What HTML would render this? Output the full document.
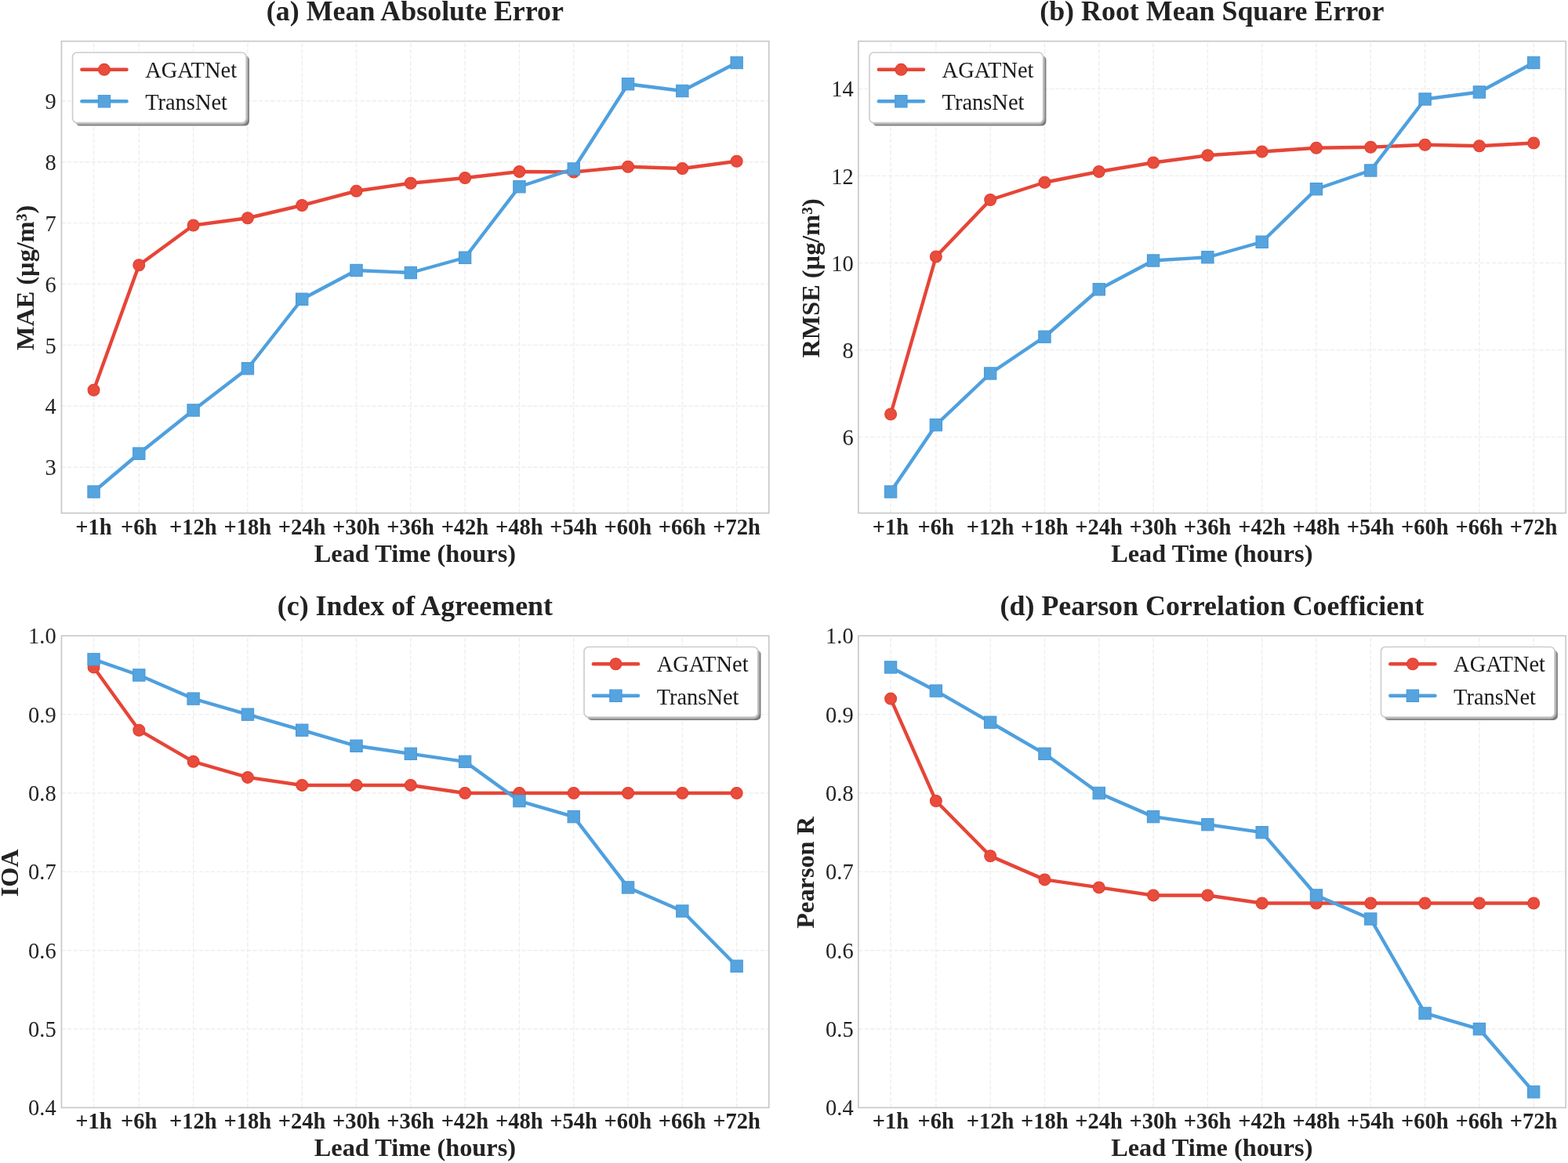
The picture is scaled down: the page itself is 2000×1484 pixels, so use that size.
<!DOCTYPE html>
<html lang="en"><head><meta charset="utf-8"><title>Forecast metrics by lead time</title>
<style>html,body{margin:0;padding:0;background:#fff}body{width:2000px;height:1484px;overflow:hidden}svg{display:block}text{font-family:"Liberation Serif","DejaVu Serif",serif;fill:#222222}.b{font-weight:bold}.t{font-size:35.9px}.l{font-size:32.3px}.xt{font-size:28.5px}.yt{font-size:28.5px}.lg{font-size:28.45px;fill:#1a1a1a}.g{stroke:#edeeee;stroke-width:1.4;stroke-dasharray:5.32 2.3;fill:none}.sp{fill:none;stroke:#c6c6c6;stroke-width:1.6;stroke-linecap:square}.r{stroke:#e64537}.u{stroke:#4fa0de}.ln{fill:none;stroke-width:4.4;stroke-linejoin:round;stroke-linecap:round}.rm{fill:#e74c3c;stroke:#e43d2e;stroke-width:1.1}.um{fill:#56a4de;stroke:#4799db;stroke-width:1.1}</style></head><body>
<svg width="2000" height="1484" viewBox="0 0 2000 1484">
<rect width="2000" height="1484" fill="#fff"/>
<g>
<line class="g" x1="119.55" y1="654.7" x2="119.55" y2="52.6"/>
<line class="g" x1="177.3" y1="654.7" x2="177.3" y2="52.6"/>
<line class="g" x1="246.61" y1="654.7" x2="246.61" y2="52.6"/>
<line class="g" x1="315.91" y1="654.7" x2="315.91" y2="52.6"/>
<line class="g" x1="385.22" y1="654.7" x2="385.22" y2="52.6"/>
<line class="g" x1="454.52" y1="654.7" x2="454.52" y2="52.6"/>
<line class="g" x1="523.82" y1="654.7" x2="523.82" y2="52.6"/>
<line class="g" x1="593.13" y1="654.7" x2="593.13" y2="52.6"/>
<line class="g" x1="662.43" y1="654.7" x2="662.43" y2="52.6"/>
<line class="g" x1="731.74" y1="654.7" x2="731.74" y2="52.6"/>
<line class="g" x1="801.04" y1="654.7" x2="801.04" y2="52.6"/>
<line class="g" x1="870.35" y1="654.7" x2="870.35" y2="52.6"/>
<line class="g" x1="939.65" y1="654.7" x2="939.65" y2="52.6"/>
<line class="g" x1="78.45" y1="596.2" x2="980.75" y2="596.2"/>
<line class="g" x1="78.45" y1="518.3" x2="980.75" y2="518.3"/>
<line class="g" x1="78.45" y1="440.4" x2="980.75" y2="440.4"/>
<line class="g" x1="78.45" y1="362.5" x2="980.75" y2="362.5"/>
<line class="g" x1="78.45" y1="284.6" x2="980.75" y2="284.6"/>
<line class="g" x1="78.45" y1="206.7" x2="980.75" y2="206.7"/>
<line class="g" x1="78.45" y1="128.8" x2="980.75" y2="128.8"/>
<polyline class="ln r" points="119.55,497.75 177.3,338.25 246.61,287.5 315.91,278.25 385.22,262 454.52,243.75 523.82,233.75 593.13,227 662.43,219 731.74,219.5 801.04,212.75 870.35,215 939.65,205.75"/>
<circle class="rm" cx="119.55" cy="497.75" r="7.45"/>
<circle class="rm" cx="177.3" cy="338.25" r="7.45"/>
<circle class="rm" cx="246.61" cy="287.5" r="7.45"/>
<circle class="rm" cx="315.91" cy="278.25" r="7.45"/>
<circle class="rm" cx="385.22" cy="262" r="7.45"/>
<circle class="rm" cx="454.52" cy="243.75" r="7.45"/>
<circle class="rm" cx="523.82" cy="233.75" r="7.45"/>
<circle class="rm" cx="593.13" cy="227" r="7.45"/>
<circle class="rm" cx="662.43" cy="219" r="7.45"/>
<circle class="rm" cx="731.74" cy="219.5" r="7.45"/>
<circle class="rm" cx="801.04" cy="212.75" r="7.45"/>
<circle class="rm" cx="870.35" cy="215" r="7.45"/>
<circle class="rm" cx="939.65" cy="205.75" r="7.45"/>
<polyline class="ln u" points="119.55,627.5 177.3,578.75 246.61,523.5 315.91,470.25 385.22,381.75 454.52,345 523.82,348 593.13,328.75 662.43,238.25 731.74,215.5 801.04,107.25 870.35,116 939.65,80"/>
<rect class="um" x="111.9" y="619.85" width="15.3" height="15.3"/>
<rect class="um" x="169.65" y="571.1" width="15.3" height="15.3"/>
<rect class="um" x="238.96" y="515.85" width="15.3" height="15.3"/>
<rect class="um" x="308.26" y="462.6" width="15.3" height="15.3"/>
<rect class="um" x="377.57" y="374.1" width="15.3" height="15.3"/>
<rect class="um" x="446.87" y="337.35" width="15.3" height="15.3"/>
<rect class="um" x="516.17" y="340.35" width="15.3" height="15.3"/>
<rect class="um" x="585.48" y="321.1" width="15.3" height="15.3"/>
<rect class="um" x="654.78" y="230.6" width="15.3" height="15.3"/>
<rect class="um" x="724.09" y="207.85" width="15.3" height="15.3"/>
<rect class="um" x="793.39" y="99.6" width="15.3" height="15.3"/>
<rect class="um" x="862.7" y="108.35" width="15.3" height="15.3"/>
<rect class="um" x="932" y="72.35" width="15.3" height="15.3"/>
<rect class="sp" x="78.45" y="52.6" width="902.3" height="602.1"/>
<text class="xt b" x="119.35" y="682.4" text-anchor="middle">+1h</text>
<text class="xt b" x="177.1" y="682.4" text-anchor="middle">+6h</text>
<text class="xt b" x="246.41" y="682.4" text-anchor="middle">+12h</text>
<text class="xt b" x="315.71" y="682.4" text-anchor="middle">+18h</text>
<text class="xt b" x="385.02" y="682.4" text-anchor="middle">+24h</text>
<text class="xt b" x="454.32" y="682.4" text-anchor="middle">+30h</text>
<text class="xt b" x="523.62" y="682.4" text-anchor="middle">+36h</text>
<text class="xt b" x="592.93" y="682.4" text-anchor="middle">+42h</text>
<text class="xt b" x="662.23" y="682.4" text-anchor="middle">+48h</text>
<text class="xt b" x="731.54" y="682.4" text-anchor="middle">+54h</text>
<text class="xt b" x="800.84" y="682.4" text-anchor="middle">+60h</text>
<text class="xt b" x="870.15" y="682.4" text-anchor="middle">+66h</text>
<text class="xt b" x="939.45" y="682.4" text-anchor="middle">+72h</text>
<text class="yt" transform="translate(71.75 606.3) scale(1 1.04)" text-anchor="end">3</text>
<text class="yt" transform="translate(71.75 528.4) scale(1 1.04)" text-anchor="end">4</text>
<text class="yt" transform="translate(71.75 450.5) scale(1 1.04)" text-anchor="end">5</text>
<text class="yt" transform="translate(71.75 372.6) scale(1 1.04)" text-anchor="end">6</text>
<text class="yt" transform="translate(71.75 294.7) scale(1 1.04)" text-anchor="end">7</text>
<text class="yt" transform="translate(71.75 216.8) scale(1 1.04)" text-anchor="end">8</text>
<text class="yt" transform="translate(71.75 138.9) scale(1 1.04)" text-anchor="end">9</text>
<text class="t b" x="529.4" y="26.3" text-anchor="middle">(a) Mean Absolute Error</text>
<text class="l b" x="529.4" y="717.1" text-anchor="middle">Lead Time (hours)</text>
<text class="l b" transform="translate(42.6 354.45) rotate(-90)" text-anchor="middle">MAE (µg/m³)</text>
<rect x="96.45" y="70.9" width="221.5" height="89.6" rx="5.5" fill="#7b7b7b"/>
<rect x="91" y="65.45" width="224.6" height="92.7" rx="7" fill="none" stroke="#fff" stroke-opacity="0.42" stroke-width="1.6"/>
<rect x="92.55" y="67" width="221.5" height="89.6" rx="5.5" fill="#fff" stroke="#cccccc" stroke-width="1.6"/>
<line class="ln r" x1="104.35" y1="88.8" x2="161.55" y2="88.8"/>
<circle class="rm" cx="132.95" cy="88.8" r="7.45"/>
<text class="lg" x="185.15" y="99">AGATNet</text>
<line class="ln u" x1="104.35" y1="129.3" x2="161.55" y2="129.3"/>
<rect class="um" x="125.3" y="121.65" width="15.3" height="15.3"/>
<text class="lg" x="185.15" y="140.05">TransNet</text>
</g>
<g>
<line class="g" x1="1136.1" y1="654.7" x2="1136.1" y2="52.6"/>
<line class="g" x1="1193.85" y1="654.7" x2="1193.85" y2="52.6"/>
<line class="g" x1="1263.16" y1="654.7" x2="1263.16" y2="52.6"/>
<line class="g" x1="1332.46" y1="654.7" x2="1332.46" y2="52.6"/>
<line class="g" x1="1401.77" y1="654.7" x2="1401.77" y2="52.6"/>
<line class="g" x1="1471.07" y1="654.7" x2="1471.07" y2="52.6"/>
<line class="g" x1="1540.37" y1="654.7" x2="1540.37" y2="52.6"/>
<line class="g" x1="1609.68" y1="654.7" x2="1609.68" y2="52.6"/>
<line class="g" x1="1678.98" y1="654.7" x2="1678.98" y2="52.6"/>
<line class="g" x1="1748.29" y1="654.7" x2="1748.29" y2="52.6"/>
<line class="g" x1="1817.59" y1="654.7" x2="1817.59" y2="52.6"/>
<line class="g" x1="1886.9" y1="654.7" x2="1886.9" y2="52.6"/>
<line class="g" x1="1956.2" y1="654.7" x2="1956.2" y2="52.6"/>
<line class="g" x1="1094.9" y1="557.6" x2="1997.2" y2="557.6"/>
<line class="g" x1="1094.9" y1="446.54" x2="1997.2" y2="446.54"/>
<line class="g" x1="1094.9" y1="335.48" x2="1997.2" y2="335.48"/>
<line class="g" x1="1094.9" y1="224.42" x2="1997.2" y2="224.42"/>
<line class="g" x1="1094.9" y1="113.36" x2="1997.2" y2="113.36"/>
<polyline class="ln r" points="1136.1,528.5 1193.85,327.5 1263.16,255 1332.46,232.75 1401.77,219 1471.07,207.5 1540.37,198.25 1609.68,193.5 1678.98,188.75 1748.29,187.75 1817.59,184.75 1886.9,186.25 1956.2,182.5"/>
<circle class="rm" cx="1136.1" cy="528.5" r="7.45"/>
<circle class="rm" cx="1193.85" cy="327.5" r="7.45"/>
<circle class="rm" cx="1263.16" cy="255" r="7.45"/>
<circle class="rm" cx="1332.46" cy="232.75" r="7.45"/>
<circle class="rm" cx="1401.77" cy="219" r="7.45"/>
<circle class="rm" cx="1471.07" cy="207.5" r="7.45"/>
<circle class="rm" cx="1540.37" cy="198.25" r="7.45"/>
<circle class="rm" cx="1609.68" cy="193.5" r="7.45"/>
<circle class="rm" cx="1678.98" cy="188.75" r="7.45"/>
<circle class="rm" cx="1748.29" cy="187.75" r="7.45"/>
<circle class="rm" cx="1817.59" cy="184.75" r="7.45"/>
<circle class="rm" cx="1886.9" cy="186.25" r="7.45"/>
<circle class="rm" cx="1956.2" cy="182.5" r="7.45"/>
<polyline class="ln u" points="1136.1,627.5 1193.85,542.25 1263.16,476.5 1332.46,429.75 1401.77,369.25 1471.07,332.5 1540.37,328.25 1609.68,308.75 1678.98,241.25 1748.29,217.5 1817.59,126.5 1886.9,117.5 1956.2,80"/>
<rect class="um" x="1128.45" y="619.85" width="15.3" height="15.3"/>
<rect class="um" x="1186.2" y="534.6" width="15.3" height="15.3"/>
<rect class="um" x="1255.51" y="468.85" width="15.3" height="15.3"/>
<rect class="um" x="1324.81" y="422.1" width="15.3" height="15.3"/>
<rect class="um" x="1394.12" y="361.6" width="15.3" height="15.3"/>
<rect class="um" x="1463.42" y="324.85" width="15.3" height="15.3"/>
<rect class="um" x="1532.72" y="320.6" width="15.3" height="15.3"/>
<rect class="um" x="1602.03" y="301.1" width="15.3" height="15.3"/>
<rect class="um" x="1671.33" y="233.6" width="15.3" height="15.3"/>
<rect class="um" x="1740.64" y="209.85" width="15.3" height="15.3"/>
<rect class="um" x="1809.94" y="118.85" width="15.3" height="15.3"/>
<rect class="um" x="1879.25" y="109.85" width="15.3" height="15.3"/>
<rect class="um" x="1948.55" y="72.35" width="15.3" height="15.3"/>
<rect class="sp" x="1094.9" y="52.6" width="902.3" height="602.1"/>
<text class="xt b" x="1135.9" y="682.4" text-anchor="middle">+1h</text>
<text class="xt b" x="1193.65" y="682.4" text-anchor="middle">+6h</text>
<text class="xt b" x="1262.96" y="682.4" text-anchor="middle">+12h</text>
<text class="xt b" x="1332.26" y="682.4" text-anchor="middle">+18h</text>
<text class="xt b" x="1401.57" y="682.4" text-anchor="middle">+24h</text>
<text class="xt b" x="1470.87" y="682.4" text-anchor="middle">+30h</text>
<text class="xt b" x="1540.17" y="682.4" text-anchor="middle">+36h</text>
<text class="xt b" x="1609.48" y="682.4" text-anchor="middle">+42h</text>
<text class="xt b" x="1678.78" y="682.4" text-anchor="middle">+48h</text>
<text class="xt b" x="1748.09" y="682.4" text-anchor="middle">+54h</text>
<text class="xt b" x="1817.39" y="682.4" text-anchor="middle">+60h</text>
<text class="xt b" x="1886.7" y="682.4" text-anchor="middle">+66h</text>
<text class="xt b" x="1956" y="682.4" text-anchor="middle">+72h</text>
<text class="yt" transform="translate(1088.7 567.7) scale(1 1.04)" text-anchor="end">6</text>
<text class="yt" transform="translate(1088.7 456.64) scale(1 1.04)" text-anchor="end">8</text>
<text class="yt" transform="translate(1088.7 345.58) scale(1 1.04)" text-anchor="end">10</text>
<text class="yt" transform="translate(1088.7 234.52) scale(1 1.04)" text-anchor="end">12</text>
<text class="yt" transform="translate(1088.7 123.46) scale(1 1.04)" text-anchor="end">14</text>
<text class="t b" x="1545.85" y="26.3" text-anchor="middle">(b) Root Mean Square Error</text>
<text class="l b" x="1545.85" y="717.1" text-anchor="middle">Lead Time (hours)</text>
<text class="l b" transform="translate(1045.4 354.95) rotate(-90)" text-anchor="middle">RMSE (µg/m³)</text>
<rect x="1112.9" y="70.9" width="221.5" height="89.6" rx="5.5" fill="#7b7b7b"/>
<rect x="1107.45" y="65.45" width="224.6" height="92.7" rx="7" fill="none" stroke="#fff" stroke-opacity="0.42" stroke-width="1.6"/>
<rect x="1109" y="67" width="221.5" height="89.6" rx="5.5" fill="#fff" stroke="#cccccc" stroke-width="1.6"/>
<line class="ln r" x1="1120.8" y1="88.8" x2="1178" y2="88.8"/>
<circle class="rm" cx="1149.4" cy="88.8" r="7.45"/>
<text class="lg" x="1201.6" y="99">AGATNet</text>
<line class="ln u" x1="1120.8" y1="129.3" x2="1178" y2="129.3"/>
<rect class="um" x="1141.75" y="121.65" width="15.3" height="15.3"/>
<text class="lg" x="1201.6" y="140.05">TransNet</text>
</g>
<g>
<line class="g" x1="119.55" y1="1413.4" x2="119.55" y2="811.3"/>
<line class="g" x1="177.3" y1="1413.4" x2="177.3" y2="811.3"/>
<line class="g" x1="246.61" y1="1413.4" x2="246.61" y2="811.3"/>
<line class="g" x1="315.91" y1="1413.4" x2="315.91" y2="811.3"/>
<line class="g" x1="385.22" y1="1413.4" x2="385.22" y2="811.3"/>
<line class="g" x1="454.52" y1="1413.4" x2="454.52" y2="811.3"/>
<line class="g" x1="523.82" y1="1413.4" x2="523.82" y2="811.3"/>
<line class="g" x1="593.13" y1="1413.4" x2="593.13" y2="811.3"/>
<line class="g" x1="662.43" y1="1413.4" x2="662.43" y2="811.3"/>
<line class="g" x1="731.74" y1="1413.4" x2="731.74" y2="811.3"/>
<line class="g" x1="801.04" y1="1413.4" x2="801.04" y2="811.3"/>
<line class="g" x1="870.35" y1="1413.4" x2="870.35" y2="811.3"/>
<line class="g" x1="939.65" y1="1413.4" x2="939.65" y2="811.3"/>
<line class="g" x1="78.45" y1="1313.05" x2="980.75" y2="1313.05"/>
<line class="g" x1="78.45" y1="1212.7" x2="980.75" y2="1212.7"/>
<line class="g" x1="78.45" y1="1112.35" x2="980.75" y2="1112.35"/>
<line class="g" x1="78.45" y1="1012" x2="980.75" y2="1012"/>
<line class="g" x1="78.45" y1="911.65" x2="980.75" y2="911.65"/>
<polyline class="ln r" points="119.55,851.44 177.3,931.72 246.61,971.86 315.91,991.93 385.22,1001.96 454.52,1001.96 523.82,1001.96 593.13,1012 662.43,1012 731.74,1012 801.04,1012 870.35,1012 939.65,1012"/>
<circle class="rm" cx="119.55" cy="851.44" r="7.45"/>
<circle class="rm" cx="177.3" cy="931.72" r="7.45"/>
<circle class="rm" cx="246.61" cy="971.86" r="7.45"/>
<circle class="rm" cx="315.91" cy="991.93" r="7.45"/>
<circle class="rm" cx="385.22" cy="1001.96" r="7.45"/>
<circle class="rm" cx="454.52" cy="1001.96" r="7.45"/>
<circle class="rm" cx="523.82" cy="1001.96" r="7.45"/>
<circle class="rm" cx="593.13" cy="1012" r="7.45"/>
<circle class="rm" cx="662.43" cy="1012" r="7.45"/>
<circle class="rm" cx="731.74" cy="1012" r="7.45"/>
<circle class="rm" cx="801.04" cy="1012" r="7.45"/>
<circle class="rm" cx="870.35" cy="1012" r="7.45"/>
<circle class="rm" cx="939.65" cy="1012" r="7.45"/>
<polyline class="ln u" points="119.55,841.4 177.3,861.48 246.61,891.58 315.91,911.65 385.22,931.72 454.52,951.79 523.82,961.83 593.13,971.86 662.43,1022.03 731.74,1042.11 801.04,1132.42 870.35,1162.53 939.65,1232.77"/>
<rect class="um" x="111.9" y="833.75" width="15.3" height="15.3"/>
<rect class="um" x="169.65" y="853.82" width="15.3" height="15.3"/>
<rect class="um" x="238.96" y="883.93" width="15.3" height="15.3"/>
<rect class="um" x="308.26" y="904" width="15.3" height="15.3"/>
<rect class="um" x="377.57" y="924.07" width="15.3" height="15.3"/>
<rect class="um" x="446.87" y="944.14" width="15.3" height="15.3"/>
<rect class="um" x="516.17" y="954.17" width="15.3" height="15.3"/>
<rect class="um" x="585.48" y="964.21" width="15.3" height="15.3"/>
<rect class="um" x="654.78" y="1014.38" width="15.3" height="15.3"/>
<rect class="um" x="724.09" y="1034.45" width="15.3" height="15.3"/>
<rect class="um" x="793.39" y="1124.77" width="15.3" height="15.3"/>
<rect class="um" x="862.7" y="1154.88" width="15.3" height="15.3"/>
<rect class="um" x="932" y="1225.12" width="15.3" height="15.3"/>
<rect class="sp" x="78.45" y="811.3" width="902.3" height="602.1"/>
<text class="xt b" x="119.35" y="1440.3" text-anchor="middle">+1h</text>
<text class="xt b" x="177.1" y="1440.3" text-anchor="middle">+6h</text>
<text class="xt b" x="246.41" y="1440.3" text-anchor="middle">+12h</text>
<text class="xt b" x="315.71" y="1440.3" text-anchor="middle">+18h</text>
<text class="xt b" x="385.02" y="1440.3" text-anchor="middle">+24h</text>
<text class="xt b" x="454.32" y="1440.3" text-anchor="middle">+30h</text>
<text class="xt b" x="523.62" y="1440.3" text-anchor="middle">+36h</text>
<text class="xt b" x="592.93" y="1440.3" text-anchor="middle">+42h</text>
<text class="xt b" x="662.23" y="1440.3" text-anchor="middle">+48h</text>
<text class="xt b" x="731.54" y="1440.3" text-anchor="middle">+54h</text>
<text class="xt b" x="800.84" y="1440.3" text-anchor="middle">+60h</text>
<text class="xt b" x="870.15" y="1440.3" text-anchor="middle">+66h</text>
<text class="xt b" x="939.45" y="1440.3" text-anchor="middle">+72h</text>
<text class="yt" transform="translate(71.65 1423.25) scale(1 1.04)" text-anchor="end">0.4</text>
<text class="yt" transform="translate(71.65 1322.9) scale(1 1.04)" text-anchor="end">0.5</text>
<text class="yt" transform="translate(71.65 1222.55) scale(1 1.04)" text-anchor="end">0.6</text>
<text class="yt" transform="translate(71.65 1122.2) scale(1 1.04)" text-anchor="end">0.7</text>
<text class="yt" transform="translate(71.65 1021.85) scale(1 1.04)" text-anchor="end">0.8</text>
<text class="yt" transform="translate(71.65 921.5) scale(1 1.04)" text-anchor="end">0.9</text>
<text class="yt" transform="translate(71.65 821.15) scale(1 1.04)" text-anchor="end">1.0</text>
<text class="t b" x="529.4" y="784.8" text-anchor="middle">(c) Index of Agreement</text>
<text class="l b" x="529.4" y="1475.3" text-anchor="middle">Lead Time (hours)</text>
<text class="l b" transform="translate(22.9 1113.85) rotate(-90)" text-anchor="middle">IOA</text>
<rect x="748.95" y="829.35" width="221.5" height="89.6" rx="5.5" fill="#7b7b7b"/>
<rect x="743.5" y="823.9" width="224.6" height="92.7" rx="7" fill="none" stroke="#fff" stroke-opacity="0.42" stroke-width="1.6"/>
<rect x="745.05" y="825.45" width="221.5" height="89.6" rx="5.5" fill="#fff" stroke="#cccccc" stroke-width="1.6"/>
<line class="ln r" x1="756.85" y1="847.25" x2="814.05" y2="847.25"/>
<circle class="rm" cx="785.45" cy="847.25" r="7.45"/>
<text class="lg" x="837.65" y="857.45">AGATNet</text>
<line class="ln u" x1="756.85" y1="887.75" x2="814.05" y2="887.75"/>
<rect class="um" x="777.8" y="880.1" width="15.3" height="15.3"/>
<text class="lg" x="837.65" y="898.5">TransNet</text>
</g>
<g>
<line class="g" x1="1136.1" y1="1413.4" x2="1136.1" y2="811.3"/>
<line class="g" x1="1193.85" y1="1413.4" x2="1193.85" y2="811.3"/>
<line class="g" x1="1263.16" y1="1413.4" x2="1263.16" y2="811.3"/>
<line class="g" x1="1332.46" y1="1413.4" x2="1332.46" y2="811.3"/>
<line class="g" x1="1401.77" y1="1413.4" x2="1401.77" y2="811.3"/>
<line class="g" x1="1471.07" y1="1413.4" x2="1471.07" y2="811.3"/>
<line class="g" x1="1540.37" y1="1413.4" x2="1540.37" y2="811.3"/>
<line class="g" x1="1609.68" y1="1413.4" x2="1609.68" y2="811.3"/>
<line class="g" x1="1678.98" y1="1413.4" x2="1678.98" y2="811.3"/>
<line class="g" x1="1748.29" y1="1413.4" x2="1748.29" y2="811.3"/>
<line class="g" x1="1817.59" y1="1413.4" x2="1817.59" y2="811.3"/>
<line class="g" x1="1886.9" y1="1413.4" x2="1886.9" y2="811.3"/>
<line class="g" x1="1956.2" y1="1413.4" x2="1956.2" y2="811.3"/>
<line class="g" x1="1094.9" y1="1313.05" x2="1997.2" y2="1313.05"/>
<line class="g" x1="1094.9" y1="1212.7" x2="1997.2" y2="1212.7"/>
<line class="g" x1="1094.9" y1="1112.35" x2="1997.2" y2="1112.35"/>
<line class="g" x1="1094.9" y1="1012" x2="1997.2" y2="1012"/>
<line class="g" x1="1094.9" y1="911.65" x2="1997.2" y2="911.65"/>
<polyline class="ln r" points="1136.1,891.58 1193.85,1022.03 1263.16,1092.28 1332.46,1122.38 1401.77,1132.42 1471.07,1142.45 1540.37,1142.45 1609.68,1152.49 1678.98,1152.49 1748.29,1152.49 1817.59,1152.49 1886.9,1152.49 1956.2,1152.49"/>
<circle class="rm" cx="1136.1" cy="891.58" r="7.45"/>
<circle class="rm" cx="1193.85" cy="1022.03" r="7.45"/>
<circle class="rm" cx="1263.16" cy="1092.28" r="7.45"/>
<circle class="rm" cx="1332.46" cy="1122.38" r="7.45"/>
<circle class="rm" cx="1401.77" cy="1132.42" r="7.45"/>
<circle class="rm" cx="1471.07" cy="1142.45" r="7.45"/>
<circle class="rm" cx="1540.37" cy="1142.45" r="7.45"/>
<circle class="rm" cx="1609.68" cy="1152.49" r="7.45"/>
<circle class="rm" cx="1678.98" cy="1152.49" r="7.45"/>
<circle class="rm" cx="1748.29" cy="1152.49" r="7.45"/>
<circle class="rm" cx="1817.59" cy="1152.49" r="7.45"/>
<circle class="rm" cx="1886.9" cy="1152.49" r="7.45"/>
<circle class="rm" cx="1956.2" cy="1152.49" r="7.45"/>
<polyline class="ln u" points="1136.1,851.44 1193.85,881.54 1263.16,921.68 1332.46,961.83 1401.77,1012 1471.07,1042.11 1540.37,1052.14 1609.68,1062.17 1678.98,1142.45 1748.29,1172.56 1817.59,1292.98 1886.9,1313.05 1956.2,1393.33"/>
<rect class="um" x="1128.45" y="843.79" width="15.3" height="15.3"/>
<rect class="um" x="1186.2" y="873.89" width="15.3" height="15.3"/>
<rect class="um" x="1255.51" y="914.03" width="15.3" height="15.3"/>
<rect class="um" x="1324.81" y="954.17" width="15.3" height="15.3"/>
<rect class="um" x="1394.12" y="1004.35" width="15.3" height="15.3"/>
<rect class="um" x="1463.42" y="1034.45" width="15.3" height="15.3"/>
<rect class="um" x="1532.72" y="1044.49" width="15.3" height="15.3"/>
<rect class="um" x="1602.03" y="1054.52" width="15.3" height="15.3"/>
<rect class="um" x="1671.33" y="1134.8" width="15.3" height="15.3"/>
<rect class="um" x="1740.64" y="1164.91" width="15.3" height="15.3"/>
<rect class="um" x="1809.94" y="1285.33" width="15.3" height="15.3"/>
<rect class="um" x="1879.25" y="1305.4" width="15.3" height="15.3"/>
<rect class="um" x="1948.55" y="1385.68" width="15.3" height="15.3"/>
<rect class="sp" x="1094.9" y="811.3" width="902.3" height="602.1"/>
<text class="xt b" x="1135.9" y="1440.3" text-anchor="middle">+1h</text>
<text class="xt b" x="1193.65" y="1440.3" text-anchor="middle">+6h</text>
<text class="xt b" x="1262.96" y="1440.3" text-anchor="middle">+12h</text>
<text class="xt b" x="1332.26" y="1440.3" text-anchor="middle">+18h</text>
<text class="xt b" x="1401.57" y="1440.3" text-anchor="middle">+24h</text>
<text class="xt b" x="1470.87" y="1440.3" text-anchor="middle">+30h</text>
<text class="xt b" x="1540.17" y="1440.3" text-anchor="middle">+36h</text>
<text class="xt b" x="1609.48" y="1440.3" text-anchor="middle">+42h</text>
<text class="xt b" x="1678.78" y="1440.3" text-anchor="middle">+48h</text>
<text class="xt b" x="1748.09" y="1440.3" text-anchor="middle">+54h</text>
<text class="xt b" x="1817.39" y="1440.3" text-anchor="middle">+60h</text>
<text class="xt b" x="1886.7" y="1440.3" text-anchor="middle">+66h</text>
<text class="xt b" x="1956" y="1440.3" text-anchor="middle">+72h</text>
<text class="yt" transform="translate(1088.7 1423.25) scale(1 1.04)" text-anchor="end">0.4</text>
<text class="yt" transform="translate(1088.7 1322.9) scale(1 1.04)" text-anchor="end">0.5</text>
<text class="yt" transform="translate(1088.7 1222.55) scale(1 1.04)" text-anchor="end">0.6</text>
<text class="yt" transform="translate(1088.7 1122.2) scale(1 1.04)" text-anchor="end">0.7</text>
<text class="yt" transform="translate(1088.7 1021.85) scale(1 1.04)" text-anchor="end">0.8</text>
<text class="yt" transform="translate(1088.7 921.5) scale(1 1.04)" text-anchor="end">0.9</text>
<text class="yt" transform="translate(1088.7 821.15) scale(1 1.04)" text-anchor="end">1.0</text>
<text class="t b" x="1545.85" y="784.8" text-anchor="middle">(d) Pearson Correlation Coefficient</text>
<text class="l b" x="1545.85" y="1475.3" text-anchor="middle">Lead Time (hours)</text>
<text class="l b" transform="translate(1038.4 1113.35) rotate(-90)" text-anchor="middle">Pearson R</text>
<rect x="1765.4" y="829.35" width="221.5" height="89.6" rx="5.5" fill="#7b7b7b"/>
<rect x="1759.95" y="823.9" width="224.6" height="92.7" rx="7" fill="none" stroke="#fff" stroke-opacity="0.42" stroke-width="1.6"/>
<rect x="1761.5" y="825.45" width="221.5" height="89.6" rx="5.5" fill="#fff" stroke="#cccccc" stroke-width="1.6"/>
<line class="ln r" x1="1773.3" y1="847.25" x2="1830.5" y2="847.25"/>
<circle class="rm" cx="1801.9" cy="847.25" r="7.45"/>
<text class="lg" x="1854.1" y="857.45">AGATNet</text>
<line class="ln u" x1="1773.3" y1="887.75" x2="1830.5" y2="887.75"/>
<rect class="um" x="1794.25" y="880.1" width="15.3" height="15.3"/>
<text class="lg" x="1854.1" y="898.5">TransNet</text>
</g>
</svg></body></html>
